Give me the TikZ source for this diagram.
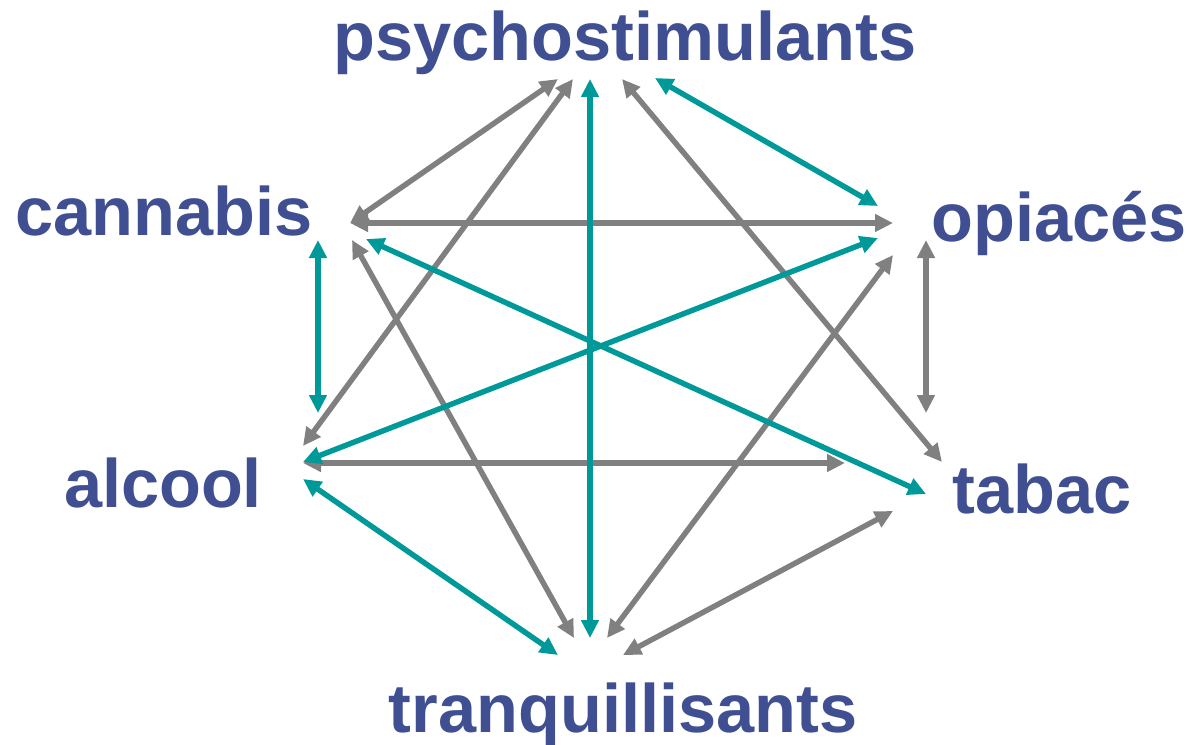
\documentclass[tikz,border=0pt]{standalone}
\usepackage{fontspec}
\setmainfont{Liberation Sans}
\usetikzlibrary{arrows.meta}
\definecolor{drugblue}{HTML}{3F4F91}
\definecolor{linkteal}{HTML}{009999}
\definecolor{linkgray}{HTML}{808080}
\begin{document}
\begin{tikzpicture}[x=0.02cm,y=-0.02cm,
 drug/.style={anchor=base,inner sep=0pt,text=drugblue,font=\fontsize{39}{47}\selectfont\bfseries},
 link/.style={{Triangle[length=0.36cm,width=0.34cm]}-{Triangle[length=0.36cm,width=0.34cm]},line width=3.1pt},
 grey/.style={link,draw=linkgray}, teal/.style={link,draw=linkteal}]
\useasboundingbox (0,0) rectangle (1192,744);
% the six substances
\node[drug] (psy) at (625,60) {psychostimulants};
\node[drug] (can) at (164,235) {cannabis};
\node[drug] (opi) at (1059,241) {opiacés};
\node[drug] (alc) at (163,507) {alcool};
\node[drug] (tab) at (1042,513) {tabac};
\node[drug] (tra) at (623,732) {tranquillisants};
% arrow ends round each label
\coordinate (psy-can) at (558,79); \coordinate (psy-alc) at (573,79);
\coordinate (psy-tra) at (590,79); \coordinate (psy-tab) at (622,79);
\coordinate (psy-opi) at (655,78);
\coordinate (can-psy) at (350,223); \coordinate (can-opi) at (350,223);
\coordinate (can-tra) at (352,240); \coordinate (can-tab) at (366,239);
\coordinate (can-alc) at (318,240);
\coordinate (opi-psy) at (878,206); \coordinate (opi-can) at (893,223);
\coordinate (opi-alc) at (878,238); \coordinate (opi-tra) at (893,255);
\coordinate (opi-tab) at (926,240);
\coordinate (alc-can) at (318,413); \coordinate (alc-psy) at (303,446);
\coordinate (alc-opi) at (303,462); \coordinate (alc-tab) at (303,463);
\coordinate (alc-tra) at (303,479);
\coordinate (tab-opi) at (926,413); \coordinate (tab-psy) at (942,462);
\coordinate (tab-alc) at (845,463); \coordinate (tab-can) at (926,494);
\coordinate (tab-tra) at (893,511);
\coordinate (tra-alc) at (558,655); \coordinate (tra-can) at (574,638);
\coordinate (tra-psy) at (590,638); \coordinate (tra-opi) at (607,638);
\coordinate (tra-tab) at (623,655);
% links
\draw[grey] (psy-can)--(can-psy); \draw[grey] (psy-alc)--(alc-psy);
\draw[grey] (psy-tab)--(tab-psy); \draw[grey] (can-opi)--(opi-can);
\draw[grey] (can-tra)--(tra-can); \draw[grey] (opi-tra)--(tra-opi);
\draw[grey] (opi-tab)--(tab-opi); \draw[grey] (alc-tab)--(tab-alc);
\draw[grey] (tab-tra)--(tra-tab);
\draw[teal] (psy-tra)--(tra-psy); \draw[teal] (psy-opi)--(opi-psy);
\draw[teal] (can-tab)--(tab-can); \draw[teal] (can-alc)--(alc-can);
\draw[teal] (opi-alc)--(alc-opi); \draw[teal] (alc-tra)--(tra-alc);
\end{tikzpicture}
\end{document}
